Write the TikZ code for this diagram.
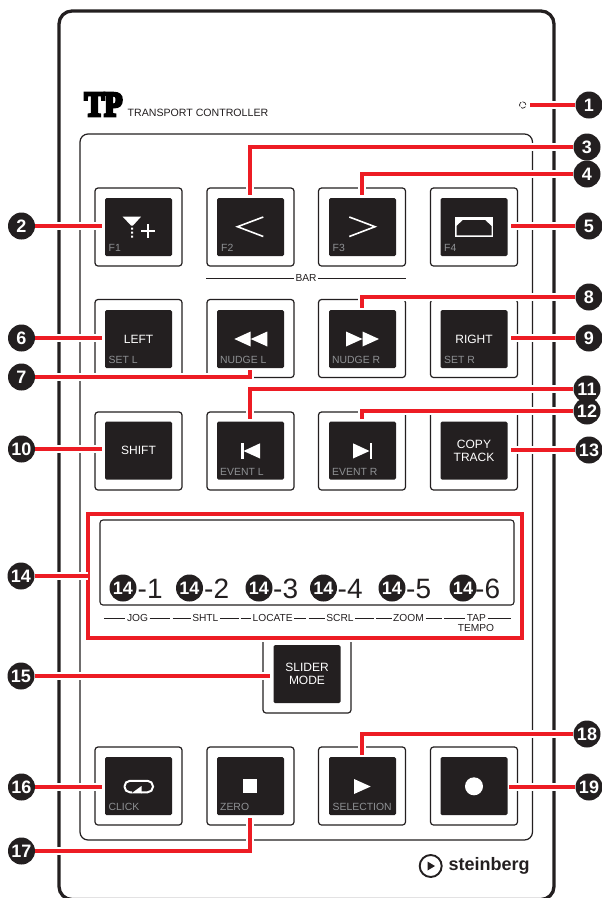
\documentclass[tikz,border=0pt]{standalone}
\usepackage{fontspec}
\setmainfont{Liberation Sans}
\newfontfamily\logofont[BoldFeatures={FakeBold=8,FakeStretch=.84}]{Liberation Serif}
\usetikzlibrary{calc}
\definecolor{keyblack}{HTML}{231F20}
\definecolor{keygray}{HTML}{8F9194}
\definecolor{leaderred}{HTML}{ED1C24}
\tikzset{
  keyframe/.style={draw=keyblack,line width=1.2pt,rounded corners=3pt,minimum width=87pt,minimum height=78pt,inner sep=0pt},
  keytop/.style={fill=keyblack,rounded corners=1.5pt,minimum width=67pt,minimum height=58pt,inner sep=0pt},
  keyname/.style={text=white,font=\fontsize{12}{13}\selectfont,align=center,inner sep=0pt},
  subname/.style={text=keygray,font=\fontsize{10.4}{12}\selectfont,anchor=west,inner sep=0pt},
  marklabel/.style={text=keyblack,font=\fontsize{10.2}{10}\selectfont,inner sep=1.5pt},
  callout/.style={circle,fill=keyblack,text=white,minimum size=27pt,inner sep=0pt,font=\fontsize{18}{18}\bfseries\selectfont},
  subnum/.style={text=keyblack,font=\fontsize{28}{28}\selectfont,anchor=base west,inner sep=0pt},
  leader/.style={draw=leaderred,line width=3.6pt,preaction={draw=white,line width=8pt}},
  thinrule/.style={draw=keyblack,line width=.8pt},
  stroke/.style={draw=white,line width=1.6pt}
}
\begin{document}
\begin{tikzpicture}[x=1pt,y=-1pt]
\clip (0,0) rectangle (602,898);
\fill[white] (0,0) rectangle (602,898);
\draw[keyblack,line width=3.3pt,rounded corners=13pt] (59,11) rectangle (554,899.5);
\draw[keyblack,line width=1.2pt,rounded corners=8pt] (80,134) rectangle (532.5,840);
\node[anchor=base west,inner sep=0pt,font=\logofont\bfseries\fontsize{35}{35}\selectfont] (tplogo) at (84.5,116) {TP};
\node[anchor=west,inner sep=0pt,text=keyblack,font=\fontsize{10.6}{11}\selectfont] (tpname) at (127.5,112.5) {TRANSPORT CONTROLLER};
\draw[keyblack,line width=.7pt,dash pattern=on 5pt off 1.5pt] (522.7,105) circle[radius=3.2pt];
\coordinate (ledend) at (530,105);

\node[keyframe] (framefone) at (138.5,227) {};
\node[keyframe] (frameftwo) at (250.5,227) {};
\node[keyframe] (framefthree) at (362,227) {};
\node[keyframe] (frameffour) at (474,227) {};
\node[keytop] (keyfone) at (138.5,227) {};
\node[keytop] (keyftwo) at (250.5,227) {};
\node[keytop] (keyfthree) at (362.5,227) {};
\node[keytop] (keyffour) at (474,227) {};
\node[subname] (namefone) at (108.5,248) {F1};
\node[subname] (nameftwo) at (221,248) {F2};
\node[subname] (namefthree) at (332.5,248) {F3};
\node[subname] (nameffour) at (444,248) {F4};
\fill[white] (122.7,216.7) -- (141,216.7) -- (133,225.5) -- (131,225.5) -- cycle;
\fill[white] (131,227.5) rectangle (133,229.5) (131,231.5) rectangle (133,233.5) (131,235.5) rectangle (133,237.5);
\draw[stroke,line width=2pt] (141,231) -- (155,231) (148,224) -- (148,238);
\draw[stroke] (263.3,217) -- (237.5,226.7) -- (263.3,236.5);
\draw[stroke] (349.3,217) -- (375,226.7) -- (349.3,236.5);
\fill[white] (455,217) rectangle (493,236.7);
\fill[keyblack] (456.5,235.3) -- (456.5,226) -- (463,220) -- (485,220) -- (491.5,226) -- (491.5,235.3) -- cycle;
\node[marklabel] (barname) at (306,278) {BAR};
\draw[thinrule] (206,278) -- (barname.west);
\draw[thinrule] (barname.east) -- (406,278);

\node[keyframe] (frameleft) at (138.5,338.5) {};
\node[keyframe] (framerew) at (250.5,338.5) {};
\node[keyframe] (frameffw) at (362,338.5) {};
\node[keyframe] (frameright) at (474,338.5) {};
\node[keytop] (keyleft) at (138.5,339) {};
\node[keytop] (keyrew) at (250.5,339) {};
\node[keytop] (keyffw) at (362.5,339) {};
\node[keytop] (keyright) at (474,339) {};
\node[keyname] (nameleft) at (138.5,339) {LEFT};
\node[keyname] (nameright) at (474,339) {RIGHT};
\node[subname] (setleft) at (108.5,360) {SET L};
\node[subname] (nudgeleft) at (220,360) {NUDGE L};
\node[subname] (nudgeright) at (332,360) {NUDGE R};
\node[subname] (setright) at (444,360) {SET R};
\fill[white] (234.3,339) -- (250.7,331.5) -- (250.7,346.5) -- cycle (250.7,339) -- (267.3,331.5) -- (267.3,346.5) -- cycle;
\fill[white] (346,331.5) -- (362.5,339) -- (346,346.5) -- cycle (362.5,331.5) -- (379,339) -- (362.5,346.5) -- cycle;

\node[keyframe] (frameshift) at (138.5,451) {};
\node[keyframe] (frameeventl) at (250.5,451) {};
\node[keyframe] (frameeventr) at (362,451) {};
\node[keyframe] (framecopy) at (474,451) {};
\node[keytop] (keyshift) at (138.5,450.5) {};
\node[keytop] (keyeventl) at (250.5,450.5) {};
\node[keytop] (keyeventr) at (362.5,450.5) {};
\node[keytop] (keycopy) at (474,450.5) {};
\node[keyname] (nameshift) at (138.5,450.5) {SHIFT};
\node[keyname] (namecopy) at (474,450.5) {COPY\\TRACK};
\node[subname] (eventleft) at (220,472) {EVENT L};
\node[subname] (eventright) at (332,472) {EVENT R};
\fill[white] (241,443.3) rectangle (243.5,458.5);
\fill[white] (243.5,451) -- (260,443.3) -- (260,458.5) -- cycle;
\fill[white] (369.5,443.3) rectangle (372,458.5);
\fill[white] (369.5,451) -- (353,443.3) -- (353,458.5) -- cycle;

\node[keyframe,minimum width=88pt,minimum height=77pt] (frameslider) at (307,674.5) {};
\node[keytop] (keyslider) at (307,674) {};
\node[keyname] (nameslider) at (307,674) {SLIDER\\MODE};

\draw[keyblack,line width=1.1pt,rounded corners=3pt] (100,520) rectangle (514,605);
\node[callout] (subone) at (123,588) {14};
\node[callout] (subtwo) at (189.5,588) {14};
\node[callout] (subthree) at (259,588) {14};
\node[callout] (subfour) at (323.5,588) {14};
\node[callout] (subfive) at (392,588) {14};
\node[callout] (subsix) at (463,588) {14};
\node[subnum] (numsubone) at (137.5,598) {-1};
\node[subnum] (numsubtwo) at (204,598) {-2};
\node[subnum] (numsubthree) at (273,598) {-3};
\node[subnum] (numsubfour) at (337.5,598) {-4};
\node[subnum] (numsubfive) at (406,598) {-5};
\node[subnum] (numsubsix) at (475,598) {-6};
\node[marklabel] (jogname) at (137.5,618) {JOG};
\node[marklabel] (shtlname) at (205.3,618) {SHTL};
\node[marklabel] (locname) at (272.7,618) {LOCATE};
\node[marklabel] (scrlname) at (340,618) {SCRL};
\node[marklabel] (zoomname) at (408.5,618) {ZOOM};
\node[marklabel] (tapname) at (476.5,618) {TAP};
\node[marklabel] (temponame) at (476,627.5) {TEMPO};
\draw[thinrule] (104,618) -- (jogname.west) (jogname.east) -- (170,618);
\draw[thinrule] (172.5,618) -- (shtlname.west) (shtlname.east) -- (238.5,618);
\draw[thinrule] (240.5,618) -- (locname.west) (locname.east) -- (306,618);
\draw[thinrule] (308.5,618) -- (scrlname.west) (scrlname.east) -- (374,618);
\draw[thinrule] (376,618) -- (zoomname.west) (zoomname.east) -- (442,618);
\draw[thinrule] (444,618) -- (tapname.west) (tapname.east) -- (511,618);
\draw[leaderred,line width=3.2pt,preaction={draw=white,line width=7pt}] (88,514) rectangle (522,638);

\node[keyframe] (frameclick) at (138.5,786) {};
\node[keyframe] (framezero) at (250.5,786) {};
\node[keyframe] (frameplay) at (362,786) {};
\node[keyframe] (framerec) at (474,786) {};
\node[keytop] (keyclick) at (138.5,786) {};
\node[keytop] (keyzero) at (250.5,786) {};
\node[keytop] (keyplay) at (362.5,786) {};
\node[keytop] (keyrec) at (474,786) {};
\node[subname] (nameclick) at (108.5,807) {CLICK};
\node[subname] (namezero) at (220,807) {ZERO};
\node[subname] (nameplay) at (332.5,807) {SELECTION};
\draw[stroke,line width=2pt,rounded corners=5.5pt] (132,792.3) -- (124.5,792.3) -- (124.5,780.8) -- (153,780.8) -- (153,792.3) -- (141,792.3);
\fill[white] (131.5,793.3) -- (141.5,786) -- (141.5,793.3) -- cycle;
\fill[white] (243,779.3) rectangle (257,793.3);
\fill[white] (354,779) -- (370.7,786.5) -- (354,794) -- cycle;
\fill[white] (474,786.3) circle[radius=9pt];

\draw[keyblack,line width=1.9pt] (430.7,866) circle[radius=11pt];
\fill[keyblack] (427.5,861.5) -- (435,866) -- (427.5,870.5) -- cycle;
\node[anchor=west,inner sep=0pt,text=keyblack,font=\fontsize{18}{18}\bfseries\selectfont] (brandname) at (448.5,866) {steinberg};

\node[callout] (numone) at (589,105) {1};
\node[callout] (numtwo) at (21.5,226) {2};
\node[callout] (numthree) at (587,147) {3};
\node[callout] (numfour) at (587,174) {4};
\node[callout] (numfive) at (589,226) {5};
\node[callout] (numsix) at (21.5,338) {6};
\node[callout] (numseven) at (21.5,377) {7};
\node[callout] (numeight) at (589,297) {8};
\node[callout] (numnine) at (589,338) {9};
\node[callout] (numten) at (21.5,449) {10};
\node[callout] (numeleven) at (587,389) {11};
\node[callout] (numtwelve) at (587,411) {12};
\node[callout] (numthirteen) at (589,450) {13};
\node[callout] (numfourteen) at (21,576) {14};
\node[callout] (numfifteen) at (21,676) {15};
\node[callout] (numsixteen) at (21.5,787) {16};
\node[callout] (numseventeen) at (21.5,851) {17};
\node[callout] (numeighteen) at (587,734) {18};
\node[callout] (numnineteen) at (589,787) {19};

\coordinate (endtwo) at (102,226);
\coordinate (endthree) at (250,195);
\coordinate (endfour) at (362,195);
\coordinate (endfive) at (511,226);
\coordinate (endsix) at (102,338);
\coordinate (endseven) at (250,369.5);
\coordinate (endeight) at (362,308);
\coordinate (endnine) at (511,338);
\coordinate (endten) at (102,449);
\coordinate (endeleven) at (250,419);
\coordinate (endtwelve) at (362,419);
\coordinate (endthirteen) at (511,450);
\coordinate (endfourteen) at (88,576);
\coordinate (endfifteen) at (270,676);
\coordinate (endsixteen) at (102,787);
\coordinate (endseventeen) at (250,817.5);
\coordinate (endeighteen) at (362,755);
\coordinate (endnineteen) at (509,787);

\draw[leader] (numone.west) -- (ledend);
\draw[leader] (numtwo.east) -- (endtwo);
\draw[leader] (numthree.west) -| (endthree);
\draw[leader] (numfour.west) -| (endfour);
\draw[leader] (numfive.west) -- (endfive);
\draw[leader] (numsix.east) -- (endsix);
\draw[leader] (numseven.east) -| (endseven);
\draw[leader] (numeight.west) -| (endeight);
\draw[leader] (numnine.west) -- (endnine);
\draw[leader] (numten.east) -- (endten);
\draw[leader] (numeleven.west) -| (endeleven);
\draw[leader] (numtwelve.west) -| (endtwelve);
\draw[leader] (numthirteen.west) -- (endthirteen);
\draw[leader] (numfourteen.east) -- (endfourteen);
\draw[leader] (numfifteen.east) -- (endfifteen);
\draw[leader] (numsixteen.east) -- (endsixteen);
\draw[leader] (numseventeen.east) -| (endseventeen);
\draw[leader] (numeighteen.west) -| (endeighteen);
\draw[leader] (numnineteen.west) -- (endnineteen);
\end{tikzpicture}
\end{document}
